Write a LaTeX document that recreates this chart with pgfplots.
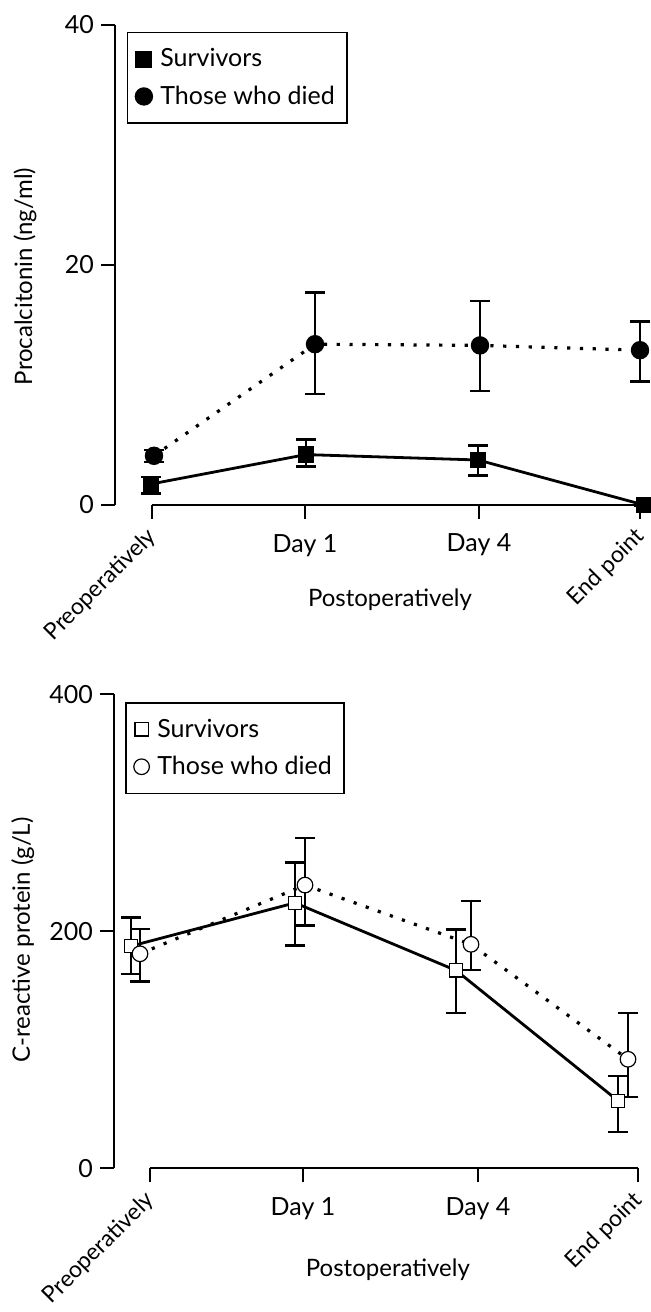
\documentclass[border=0pt]{standalone}
\usepackage{fontspec}
\setmainfont{Lato}
\usepackage{pgfplots}
\pgfplotsset{compat=1.18}

\pgfplotsset{
  panel/.style={
    scale only axis, clip=false,
    axis lines*=left,
    x axis line style={draw=none},
    y axis line style={line width=1pt},
    tick align=outside, major tick length=7pt,
    every tick/.style={black, line width=1pt},
    tick label style={font=\fontsize{12.5}{14}\selectfont},
    xticklabel style={yshift=-4pt},
    label style={font=\fontsize{12}{14}\selectfont},
    /pgf/number format/assume math mode=true,
    minor tick num=0,
    legend cell align=left,
    legend image code/.code={\draw[##1, only marks] plot coordinates {(0pt,0pt)};},
    legend style={draw=black, line width=0.8pt, font=\fontsize{12.5}{15}\selectfont,
      inner xsep=4pt, inner ysep=6pt, row sep=4pt,
      /tikz/every odd column/.append style={column sep=2pt}},
    rotlab/.style={xticklabel style={rotate=45, anchor=east, yshift=-2.5pt, xshift=1.5pt,
      font=\fontsize{11.5}{13}\selectfont}},
  },
  surv/.style={black, line width=1.4pt, solid, mark=square*, mark size=3.5pt,
    mark options={solid, fill=black},
    error bars/.cd, y dir=both, y explicit,
    error bar style={line width=1.2pt, solid},
    error mark options={line width=1.2pt, mark size=5pt, rotate=90}},
  died/.style={black, line width=1.6pt, dash pattern=on 1.6pt off 4.8pt, mark=*, mark size=4.2pt,
    mark options={solid, fill=black, line width=0.8pt},
    error bars/.cd, y dir=both, y explicit,
    error bar style={line width=1.2pt, solid},
    error mark options={line width=1.2pt, mark size=5pt, rotate=90}},
  survo/.style={black, line width=1.4pt, solid, mark=square*, mark size=3.3pt,
    mark options={solid, fill=white, line width=0.6pt},
    error bars/.cd, y dir=both, y explicit,
    error bar style={line width=1.2pt, solid},
    error mark options={line width=1.2pt, mark size=5pt, rotate=90}},
  diedo/.style={black, line width=1.6pt, dash pattern=on 1.6pt off 4.8pt, mark=*, mark size=3.9pt,
    mark options={solid, fill=white, line width=0.6pt},
    error bars/.cd, y dir=both, y explicit,
    error bar style={line width=1.2pt, solid},
    error mark options={line width=1.2pt, mark size=5pt, rotate=90}},
}

\begin{document}
\begin{tikzpicture}
\useasboundingbox (0pt,0pt) rectangle (325pt,656pt);

% ---------------- top panel: procalcitonin ----------------
\begin{axis}[panel, at={(57.5pt,403.5pt)}, anchor=south west,
  width=267.5pt, height=240pt,
  xmin=115, xmax=650, ymin=0, ymax=40,
  ytick={0,20,40},
  xtick={305,479}, xticklabels={Day 1,Day 4},
  extra x ticks={152,640}, extra x tick labels={Preoperatively,End point},
  extra x tick style={/pgfplots/rotlab},
  xlabel={Postoperatively}, ylabel={Procalcitonin (ng/ml)},
  xlabel style={at={(axis description cs:0.514,-0.198)}, anchor=center},
  ylabel style={at={(axis description cs:-0.168,0.476)}, anchor=center},
  legend style={at={(axis cs:126.7,39.44)}, anchor=north west},
]
\draw[line width=1pt] (axis cs:152,0) -- (axis cs:650,0);
\addplot[surv] coordinates {
  (151,1.75) += (0,0.6) -= (0,0.8)
  (306,4.2)  += (0,1.25) -= (0,1.0)
  (478,3.75) += (0,1.2) -= (0,1.3)
  (644,0.0)  += (0,0.1) -= (0,0.1)
};
\addlegendentry{Survivors}
\addplot[died] coordinates {
  (154,4.1)  += (0,0.5) -= (0,0.5)
  (315,13.4) += (0,4.3) -= (0,4.15)
  (480,13.3) += (0,3.7) -= (0,3.8)
  (640,12.9) += (0,2.4) -= (0,2.6)
};
\addlegendentry{Those who died}
\end{axis}

% ---------------- bottom panel: CRP ----------------
\begin{axis}[panel, at={(57pt,71.85pt)}, anchor=south west,
  width=268pt, height=237pt,
  xmin=114, xmax=650, ymin=0, ymax=400,
  ytick={0,200,400},
  xtick={303,478}, xticklabels={Day 1,Day 4},
  extra x ticks={150,638}, extra x tick labels={Preoperatively,End point},
  extra x tick style={/pgfplots/rotlab},
  xlabel={Postoperatively}, ylabel={C-reactive protein (g/L)},
  xlabel style={at={(axis description cs:0.511,-0.215)}, anchor=center},
  ylabel style={at={(axis description cs:-0.170,0.482)}, anchor=center},
  legend style={at={(axis cs:125,393.5)}, anchor=north west},
]
\draw[line width=1pt] (axis cs:150,0) -- (axis cs:638,0);
\addplot[survo] coordinates {
  (131,187.5) += (0,24) -= (0,23.5)
  (295,224)   += (0,34) -= (0,36)
  (456,167)   += (0,34.5) -= (0,36)
  (618,57)    += (0,21) -= (0,26.5)
};
\addlegendentry{Survivors}
\addplot[diedo] coordinates {
  (140,181) += (0,21) -= (0,23.5)
  (305,239) += (0,39.5) -= (0,34)
  (471,189) += (0,36.5) -= (0,21.7)
  (628,92)  += (0,39) -= (0,32)
};
\addlegendentry{Those who died}
\end{axis}
\end{tikzpicture}
\end{document}
